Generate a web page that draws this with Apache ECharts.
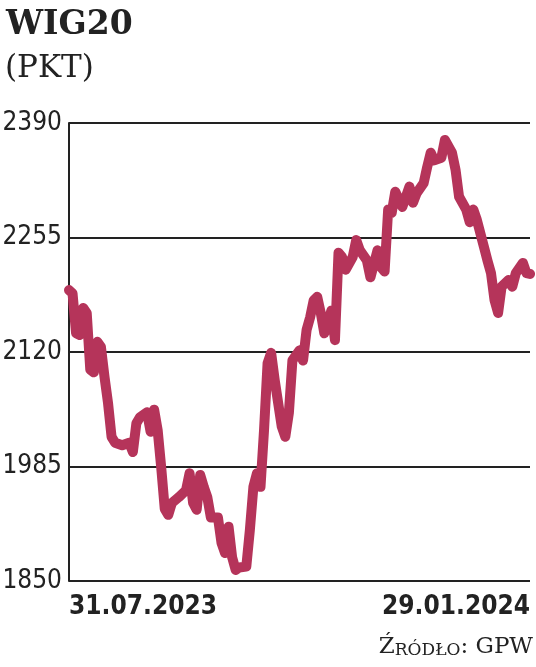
<!DOCTYPE html>
<html>
<head>
<meta charset="utf-8">
<script src="https://cdn.jsdelivr.net/npm/echarts@6/dist/echarts.min.js"></script>
<style>
html,body{margin:0;padding:0;background:#fff;}
#chart{width:536px;height:667px;}
</style>
</head>
<body>
<div id="chart"></div>
<script>
// trading-session index since 31.07.2023
const sessions = [0,1,2,3,4,5,6,7,8,9,10,11,12,13,15,17,18,19,20,22,23,24,25,26,27,28,29,31,33,34,35,36,37,38,39,40,42,43,44,45,46,47,48,50,51,52,53,54,55,56,57,58,60,61,62,63,65,66,67,68,69,70,71,72,74,75,76,77,78,80,81,82,84,85,87,88,89,90,91,92,94,96,97,98,100,101,102,103,105,106,108,109,110,112,113,114,115,117,118,119,120,121,122,124,125,126,128,129,130];
const wig20 = [2193,2189,2142,2140,2172,2166,2099,2096,2132,2126,2091,2060,2020,2013,2010,2013,2002,2036,2043,2049,2026,2052,2028,1984,1935,1928,1942,1949,1957,1977,1942,1934,1975,1961,1949,1925,1925,1895,1883,1914,1878,1863,1866,1867,1910,1961,1977,1961,2028,2107,2119,2087,2032,2020,2048,2110,2122,2110,2146,2161,2181,2185,2166,2142,2169,2134,2237,2232,2217,2232,2252,2240,2228,2208,2240,2220,2215,2288,2284,2309,2291,2315,2296,2307,2319,2338,2355,2346,2349,2370,2355,2335,2303,2288,2273,2288,2276,2244,2228,2213,2181,2166,2197,2205,2197,2213,2225,2213,2212];
const yTicks = [1850,1985,2120,2255,2390];
const xLabels = ['31.07.2023','29.01.2024'];
const title = 'WIG20';
const unit = '(PKT)';

const condensed = "'DejaVu Sans Condensed','Liberation Sans Narrow',Roboto,sans-serif";
const chart = echarts.init(document.getElementById('chart'), null, {renderer:'canvas'});
const data = sessions.map((s,i)=>[s, wig20[i]]);
const lastSession = sessions[sessions.length-1];

chart.setOption({
  animation:false,
  backgroundColor:'#fff',
  title:[
    {text:title,left:1,top:4,textStyle:{fontFamily:'DejaVu Serif',fontWeight:'bold',fontSize:33,color:'#222'}},
    {text:unit,left:0,top:48,textStyle:{fontFamily:'DejaVu Serif',fontWeight:'normal',fontSize:31,color:'#222'}}
  ],
  graphic:[
    {type:'text',right:3,top:636,style:{
      text:'{a|Ź}{b|RÓDŁO}{a|: GPW}',
      rich:{
        a:{fontFamily:'DejaVu Serif',fontSize:23,fill:'#222',verticalAlign:'bottom'},
        b:{fontFamily:'DejaVu Serif',fontSize:17,fill:'#222',verticalAlign:'bottom'}
      }
    }}
  ],
  grid:{left:69,right:6,top:123,bottom:86,containLabel:false,outerBoundsMode:'none'},
  xAxis:{
    type:'value',min:0,max:lastSession,interval:lastSession,
    axisLine:{show:false},axisTick:{show:false},splitLine:{show:false},
    axisLabel:{
      show:true,margin:13,
      fontFamily:condensed,fontSize:26,fontWeight:'bold',color:'#222',
      alignMinLabel:'left',alignMaxLabel:'right',
      formatter:v=> v===0?xLabels[0]:(v===lastSession?xLabels[1]:'')
    }
  },
  yAxis:{
    type:'value',min:yTicks[0],max:yTicks[yTicks.length-1],interval:yTicks[1]-yTicks[0],
    axisLine:{show:true,lineStyle:{color:'#222',width:2}},
    axisTick:{show:false},
    splitLine:{show:true,lineStyle:{color:'#222',width:2}},
    axisLabel:{margin:7,fontFamily:condensed,fontSize:26,color:'#222',formatter:v=>String(v)}
  },
  series:[{
    type:'line',data:data,showSymbol:false,smooth:false,clip:false,
    lineStyle:{color:'#b5345a',width:10,cap:'round',join:'round'}
  }]
});
</script>
</body>
</html>
